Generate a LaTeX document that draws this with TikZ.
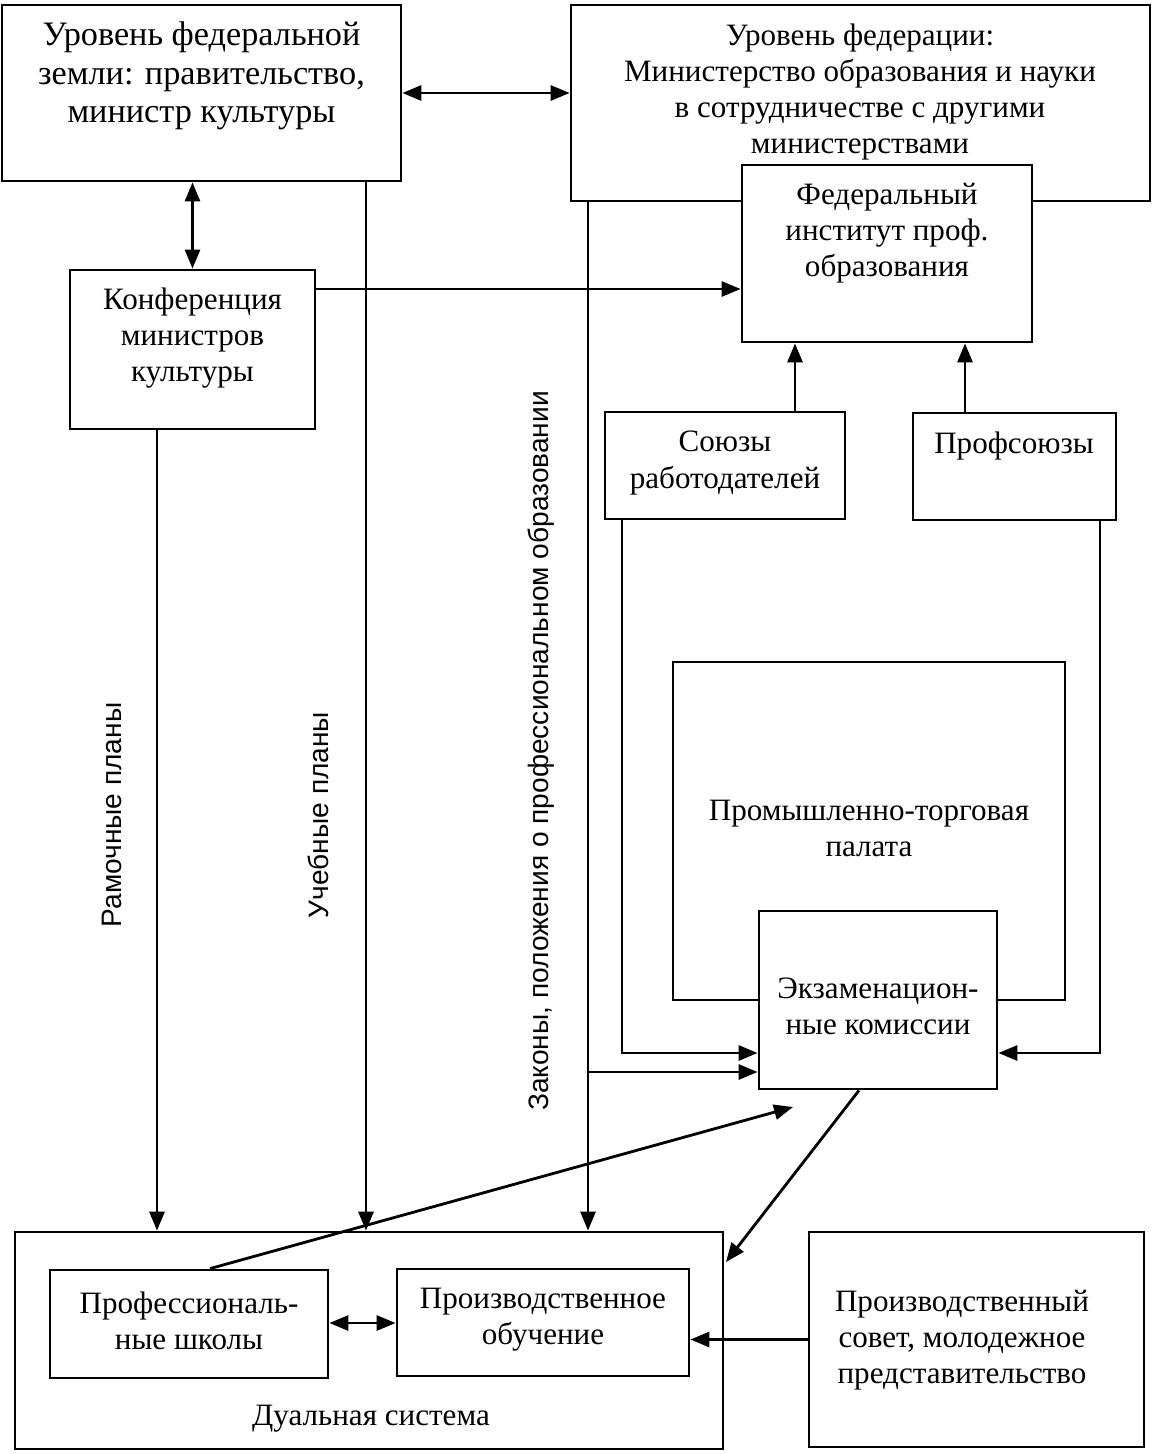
\documentclass[tikz,border=0pt]{standalone}
\usepackage{fontspec}
\setmainfont{Liberation Serif}
\newfontfamily\labfont{Liberation Sans}
\usetikzlibrary{arrows.meta,calc}
\tikzset{
  box/.style   = {draw, line width=1.6pt, rectangle, inner sep=0pt},
  wbox/.style  = {box, fill=white},
  txt/.style   = {align=center, inner sep=0pt, font=\fontsize{17.7}{20.5}\selectfont},
  vlab/.style  = {rotate=90, inner sep=0pt, font=\labfont\fontsize{16}{19}\selectfont},
  sig/.style   = {-{Triangle[length=3.8mm,width=3mm]}, line width=1.6pt},
  bisig/.style = {{Triangle[length=3.8mm,width=3mm]}-{Triangle[length=3.8mm,width=3mm]}, line width=1.6pt},
}

\begin{document}
\begin{tikzpicture}[x=0.02cm,y=-0.02cm]
\useasboundingbox (0,0) rectangle (1153,1454);

% upper level
\node[box, minimum width=7.98cm, minimum height=3.52cm] (land) at (201.5,93) {};
\node[txt, font=\fontsize{19.5}{22}\selectfont] (landtxt) at (201.5,76)
  {Уровень федеральной\\земли: правительство,\\министр культуры};
\node[box, minimum width=11.58cm, minimum height=3.92cm] (fed) at (860.5,103) {};
\node[txt] (fedtxt) at (860,92)
  {Уровень федерации:\\Министерство образования и науки\\в сотрудничестве с другими\\министерствами};
\node[wbox, minimum width=5.80cm, minimum height=3.54cm] (inst) at (887,253.5) {};
\node[txt] (insttxt) at (887,233) {Федеральный\\институт проф.\\образования};
\node[box, minimum width=4.90cm, minimum height=3.18cm] (conf) at (192.5,349.5) {};
\node[txt] (conftxt) at (192.5,338) {Конференция\\министров\\культуры};

% social partners
\node[box, minimum width=4.80cm, minimum height=2.14cm] (empl) at (725,465.5) {};
\node[txt] (empltxt) at (725,463) {Союзы\\работодателей};
\node[box, minimum width=4.06cm, minimum height=2.14cm] (unions) at (1014.5,466.5) {};
\node[txt] (unionstxt) at (1014,446) {Профсоюзы};

% chamber and exams
\node[box, minimum width=7.84cm, minimum height=6.76cm] (chamber) at (869,831) {};
\node[txt] (chambertxt) at (869,828) {Промышленно-торговая\\палата};
\node[wbox, minimum width=4.76cm, minimum height=3.56cm] (exam) at (878,1000) {};
\node[txt] (examtxt) at (878,1006) {Экзаменацион-\\ные комиссии};

% dual system
\node[box, minimum width=14.16cm, minimum height=4.34cm] (dual) at (369,1340.5) {};
\node[txt] (dualtxt) at (371,1419) {Дуальная система};
\node[box, minimum width=5.56cm, minimum height=2.16cm] (school) at (189,1324) {};
\node[txt] (schooltxt) at (189,1321) {Профессиональ-\\ные школы};
\node[box, minimum width=5.84cm, minimum height=2.14cm] (prod) at (543,1322.5) {};
\node[txt] (prodtxt) at (543,1320) {Производственное\\обучение};
\node[box, minimum width=6.70cm, minimum height=4.30cm] (council) at (976.5,1339.5) {};
\node[txt] (counciltxt) at (962,1340) {Производственный\\совет, молодежное\\представительство};

% labels along the lines
\node[vlab] (frame) at (112,815) {Рамочные планы};
\node[vlab] (curr) at (318,815) {Учебные планы};
\node[vlab] (laws) at (541,751) {Законы, положения о профессиональном образовании};

\coordinate (examtip) at (793,1107);
\coordinate (dualtip) at (726,1262);
\coordinate (fedbr) at (588,1072);

% connectors
\draw[bisig] (land.east) -- (land.east -| fed.west);
\draw[bisig] (conf.north) -- (conf.north |- land.south);
\draw[sig] (conf.east |- 0,289) -- (inst.west |- 0,289);
\draw[sig] (157,0 |- conf.south) -- (157,0 |- dual.north);
\draw[sig] (366,0 |- land.south) -- (366,0 |- dual.north);
\draw[sig] (588,0 |- fed.south) -- (588,0 |- dual.north);
\draw[sig] (fedbr) -- (fedbr -| exam.west);
\draw[sig] (795,0 |- empl.north) -- (795,0 |- inst.south);
\draw[sig] (965,0 |- unions.north) -- (965,0 |- inst.south);
\draw[sig] (622,0 |- empl.south) -- (622,1053) -- (exam.west |- 0,1053);
\draw[sig] (1100,0 |- unions.south) -- (1100,1053) -- (exam.east |- 0,1053);
\draw[sig] (210,0 |- school.north) -- (examtip);
\draw[sig] (859,0 |- exam.south) -- (dualtip);
\draw[bisig] (school.east |- 0,1323) -- (prod.west |- 0,1323);
\draw[sig] (council.west) -- (council.west -| prod.east);
\end{tikzpicture}
\end{document}
